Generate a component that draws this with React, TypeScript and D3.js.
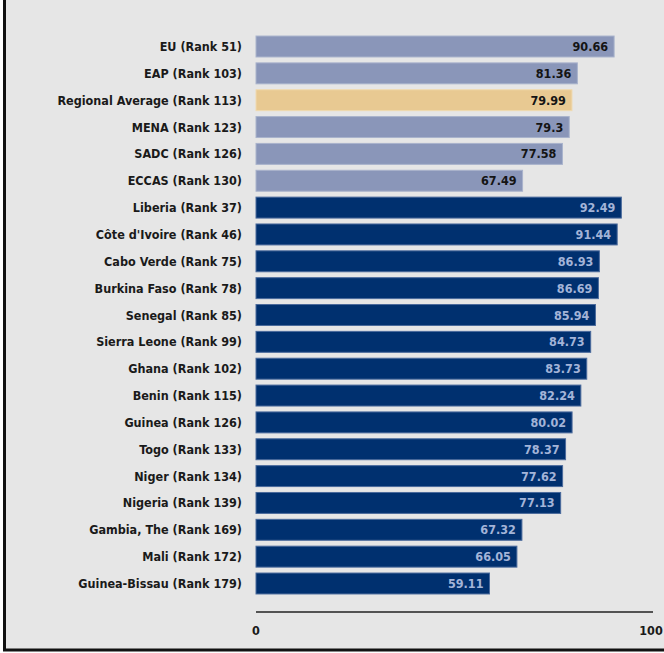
import React from "react";
import * as d3 from "d3";

const categories = [
  "EU (Rank 51)",
  "EAP (Rank 103)",
  "Regional Average (Rank 113)",
  "MENA (Rank 123)",
  "SADC (Rank 126)",
  "ECCAS (Rank 130)",
  "Liberia (Rank 37)",
  "Côte d'Ivoire (Rank 46)",
  "Cabo Verde (Rank 75)",
  "Burkina Faso (Rank 78)",
  "Senegal (Rank 85)",
  "Sierra Leone (Rank 99)",
  "Ghana (Rank 102)",
  "Benin (Rank 115)",
  "Guinea (Rank 126)",
  "Togo (Rank 133)",
  "Niger (Rank 134)",
  "Nigeria (Rank 139)",
  "Gambia, The (Rank 169)",
  "Mali (Rank 172)",
  "Guinea-Bissau (Rank 179)",
];
const values = [
  90.66, 81.36, 79.99, 79.3, 77.58, 67.49, 92.49, 91.44, 86.93, 86.69, 85.94,
  84.73, 83.73, 82.24, 80.02, 78.37, 77.62, 77.13, 67.32, 66.05, 59.11,
];
const groups = [
  "region", "region", "average", "region", "region", "region",
  "country", "country", "country", "country", "country", "country", "country",
  "country", "country", "country", "country", "country", "country", "country", "country",
];
const xTicks = [0, 100];

const W = 664;
const H = 653;
const FONT = "'DejaVu Sans Condensed', 'DejaVu Sans', sans-serif";

const fills: Record<string, string> = {
  region: "#8a96b9",
  average: "#e8c992",
  country: "#00306f",
};
const strokes: Record<string, string> = {
  region: "#a9b3cc",
  average: "#f0dab0",
  country: "#4a6a9c",
};
const labelFills: Record<string, string> = {
  region: "#141414",
  average: "#141414",
  country: "#a3b4d8",
};

export default function App() {
  const x = d3.scaleLinear().domain([0, 100]).range([256, 651]);
  const step = 26.85;
  const y = d3
    .scaleBand<string>()
    .domain(categories)
    .range([46.5 - step / 2, 583.5 + step / 2])
    .paddingInner(0.22)
    .paddingOuter(0.11);
  const bw = y.bandwidth();

  return (
    <svg
      width={W}
      height={H}
      style={{ position: "absolute", left: 0, top: 0 }}
      fontFamily={FONT}
    >
      <rect x={0} y={0} width={W} height={H} fill="#ffffff" />
      <rect x={4} y={0} width={W - 4} height={650} fill="#e6e6e6" />
      <line x1={4.5} y1={0} x2={4.5} y2={651} stroke="#111" strokeWidth={3} />
      <line x1={3} y1={650} x2={W} y2={650} stroke="#111" strokeWidth={3} />

      {categories.map((c, i) => {
        const g = groups[i];
        const yy = y(c)!;
        const v = values[i];
        return (
          <g key={c}>
            <rect
              x={x(0)}
              y={yy}
              width={x(v) - x(0)}
              height={bw}
              fill={fills[g]}
              stroke={strokes[g]}
              strokeWidth={1}
            />
            <text
              x={242}
              y={yy + bw / 2}
              dy="0.36em"
              textAnchor="end"
              fontSize={12.5}
              fontWeight="bold"
              fill="#1a1a1a"
            >
              {c}
            </text>
            <text
              x={x(v) - 6}
              y={yy + bw / 2}
              dy="0.36em"
              textAnchor="end"
              fontSize={12.5}
              fontWeight="bold"
              fill={labelFills[g]}
            >
              {String(v)}
            </text>
          </g>
        );
      })}

      <line x1={x(0)} y1={612} x2={653} y2={612} stroke="#222" strokeWidth={1.5} />
      {xTicks.map((t) => (
        <text
          key={t}
          x={x(t)}
          y={630}
          dy="0.36em"
          textAnchor="middle"
          fontSize={12.5}
          fontWeight="bold"
          fill="#1a1a1a"
        >
          {t}
        </text>
      ))}
    </svg>
  );
}
